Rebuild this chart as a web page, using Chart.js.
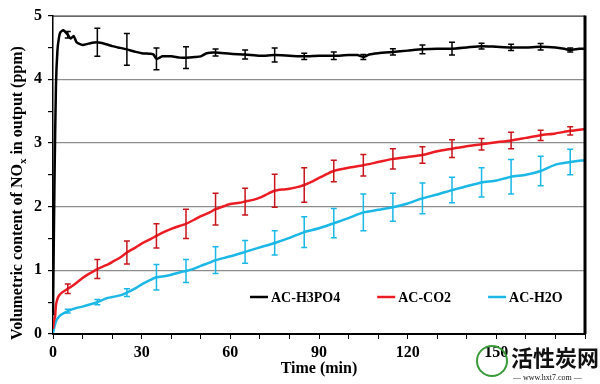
<!DOCTYPE html>
<html>
<head>
<meta charset="utf-8">
<script src="https://cdn.jsdelivr.net/npm/chart.js@4.4.1/dist/chart.umd.min.js"></script>
<style>
  html, body { margin: 0; padding: 0; background: #fff; }
  #wrap { width: 600px; height: 384px; }
</style>
</head>
<body>
<div id="wrap"><canvas id="chart" width="600" height="384"></canvas></div>
<script>
// time (min) and NOx (ppm)
const timeH3PO4 = [0, 0.5, 1, 1.5, 2, 2.5, 3.5, 5, 6, 7, 8, 10, 12, 15, 18, 20, 22, 25, 28, 30, 33, 34, 35, 37, 40, 43, 45, 48, 50, 52, 55, 60, 65, 70, 75, 80, 85, 90, 95, 100, 103, 105, 107, 110, 115, 120, 125, 130, 135, 140, 145, 150, 155, 160, 165, 170, 173, 175, 178, 180];
const valH3PO4 = [0.3, 2.4, 3.9, 4.45, 4.65, 4.74, 4.77, 4.70, 4.64, 4.68, 4.58, 4.54, 4.56, 4.58, 4.55, 4.52, 4.50, 4.47, 4.43, 4.41, 4.40, 4.39, 4.32, 4.36, 4.36, 4.34, 4.34, 4.35, 4.36, 4.41, 4.42, 4.40, 4.39, 4.37, 4.38, 4.37, 4.36, 4.37, 4.37, 4.38, 4.38, 4.35, 4.39, 4.41, 4.43, 4.45, 4.47, 4.48, 4.48, 4.50, 4.52, 4.51, 4.50, 4.50, 4.51, 4.50, 4.48, 4.46, 4.48, 4.48];

const timeCO2 = [0, 0.3, 0.7, 1, 1.5, 2, 3, 5, 7, 10, 12, 15, 18, 20, 23, 25, 28, 30, 33, 35, 38, 40, 43, 45, 48, 50, 53, 55, 58, 60, 63, 65, 68, 70, 73, 75, 78, 80, 83, 85, 88, 90, 93, 95, 100, 105, 110, 115, 120, 125, 130, 135, 140, 145, 150, 155, 160, 165, 170, 175, 180];
const valCO2 = [0.08, 0.2, 0.27, 0.45, 0.55, 0.6, 0.65, 0.71, 0.77, 0.88, 0.94, 1.02, 1.08, 1.13, 1.21, 1.28, 1.36, 1.42, 1.49, 1.54, 1.61, 1.65, 1.70, 1.73, 1.80, 1.85, 1.91, 1.96, 2.01, 2.04, 2.06, 2.08, 2.11, 2.14, 2.21, 2.25, 2.27, 2.28, 2.31, 2.34, 2.40, 2.45, 2.52, 2.56, 2.61, 2.65, 2.70, 2.75, 2.78, 2.81, 2.87, 2.91, 2.95, 2.98, 3.01, 3.04, 3.08, 3.12, 3.15, 3.19, 3.22];

const timeH2O = [0, 0.5, 1, 2, 3, 5, 8, 10, 13, 15, 18, 20, 23, 25, 28, 30, 33, 35, 38, 40, 43, 45, 48, 50, 53, 55, 60, 65, 70, 75, 80, 85, 90, 95, 100, 105, 110, 115, 120, 125, 130, 135, 140, 145, 150, 155, 160, 165, 170, 175, 180];
const valH2O = [0.02, 0.12, 0.2, 0.27, 0.31, 0.36, 0.41, 0.43, 0.47, 0.50, 0.56, 0.58, 0.61, 0.65, 0.72, 0.78, 0.85, 0.89, 0.91, 0.93, 0.97, 0.99, 1.03, 1.07, 1.12, 1.16, 1.22, 1.29, 1.36, 1.43, 1.51, 1.60, 1.66, 1.74, 1.82, 1.91, 1.95, 1.99, 2.05, 2.13, 2.19, 2.26, 2.32, 2.38, 2.41, 2.47, 2.50, 2.56, 2.66, 2.70, 2.73];

// error bars (± ppm) at these times
const errTimes = [5, 15, 25, 35, 45, 55, 65, 75, 85, 95, 105, 115, 125, 135, 145, 155, 165, 175];
const errH3PO4 = [0.05, 0.22, 0.25, 0.17, 0.17, 0.055, 0.07, 0.11, 0.05, 0.06, 0.04, 0.05, 0.07, 0.1, 0.045, 0.05, 0.05, 0.03];
const errCO2 = [0.075, 0.15, 0.18, 0.19, 0.23, 0.25, 0.21, 0.26, 0.27, 0.17, 0.17, 0.16, 0.13, 0.14, 0.09, 0.13, 0.08, 0.065];
const errH2O = [0.03, 0.04, 0.06, 0.2, 0.18, 0.21, 0.18, 0.19, 0.24, 0.23, 0.29, 0.22, 0.24, 0.2, 0.23, 0.27, 0.23, 0.2];

const xLabels = [0, 30, 60, 90, 120, 150];

const seriesNames = ["AC-H3PO4", "AC-CO2", "AC-H2O"];
const seriesColors = ["#000000", "#ec1c24", "#1bb7e6"];
const errColors = ["#000000", "#c8141b", "#1bb7e6"];

const serif = "'Liberation Serif', 'Times New Roman', serif";

function points(ts, vs) {
    return ts.map((t, i) => ({ x: t, y: vs[i] }));
}

const errorBars = {
    id: "errorBars",
    afterDatasetsDraw(chart) {
        const ctx = chart.ctx;
        const xs = chart.scales.x;
        const ys = chart.scales.y;
        chart.data.datasets.forEach((ds) => {
            ctx.save();
            ctx.strokeStyle = ds.errorColor;
            ctx.lineWidth = 1.5;
            errTimes.forEach((t, k) => {
                const pt = ds.data.find(p => p.x === t);
                if (!pt) return;
                const e = ds.errors[k];
                const px = xs.getPixelForValue(t);
                const top = ys.getPixelForValue(pt.y + e);
                const bot = ys.getPixelForValue(pt.y - e);
                ctx.beginPath();
                ctx.moveTo(px, top); ctx.lineTo(px, bot);
                ctx.moveTo(px - 3, top); ctx.lineTo(px + 3, top);
                ctx.moveTo(px - 3, bot); ctx.lineTo(px + 3, bot);
                ctx.stroke();
            });
            ctx.restore();
        });
    }
};

const frameAndText = {
    id: "frameAndText",
    afterDraw(chart) {
        const ctx = chart.ctx;
        const a = chart.chartArea;
        ctx.save();
        // top and right frame
        ctx.strokeStyle = "#000";
        ctx.lineWidth = 1;
        ctx.beginPath();
        ctx.moveTo(a.left, a.top + 0.5); ctx.lineTo(a.right, a.top + 0.5);
        ctx.stroke();
        ctx.lineWidth = 3;
        ctx.beginPath();
        ctx.moveTo(a.right, a.top); ctx.lineTo(a.right, a.bottom);
        ctx.stroke();

        // legend inside plot
        ctx.font = "bold 14px " + serif;
        ctx.textBaseline = "middle";
        ctx.textAlign = "left";
        let x = 250;
        const y = 297;
        chart.data.datasets.forEach((ds) => {
            ctx.strokeStyle = ds.borderColor;
            ctx.lineWidth = 2.5;
            ctx.beginPath();
            ctx.moveTo(x, y); ctx.lineTo(x + 18, y);
            ctx.stroke();
            ctx.fillStyle = "#000";
            ctx.fillText(ds.label, x + 21, y + 1);
            x += 21 + ctx.measureText(ds.label).width + 37;
        });

        // y axis title with subscript
        ctx.translate(18, 193);
        ctx.rotate(-Math.PI / 2);
        const big = "bold 16px " + serif;
        const small = "bold 11px " + serif;
        const p1 = "Volumetric content of NO", p2 = "x", p3 = " in output (ppm)";
        ctx.font = big; const w1 = ctx.measureText(p1).width; const w3 = ctx.measureText(p3).width;
        ctx.font = small; const w2 = ctx.measureText(p2).width;
        let sx = -(w1 + w2 + w3) / 2;
        ctx.fillStyle = "#000";
        ctx.textAlign = "left";
        ctx.textBaseline = "middle";
        ctx.font = big; ctx.fillText(p1, sx, 0); sx += w1;
        ctx.font = small; ctx.fillText(p2, sx, 5); sx += w2;
        ctx.font = big; ctx.fillText(p3, sx, 0);
        ctx.restore();

        // watermark
        ctx.save();
        ctx.strokeStyle = "#3a9a3a";
        ctx.lineWidth = 2;
        ctx.beginPath();
        ctx.arc(492, 361, 15, 0, Math.PI * 2);
        ctx.stroke();
        ctx.fillStyle = "#111";
        ctx.font = "bold 22px 'Noto Sans CJK SC'";
        ctx.textBaseline = "middle";
        ctx.textAlign = "left";
        ctx.fillText("活性炭网", 511, 358);
        ctx.font = "8px " + serif;
        ctx.fillText("— www.hxt7.com —", 513, 378);
        ctx.restore();
    }
};

const datasets = [
    { data: points(timeH3PO4, valH3PO4), errors: errH3PO4 },
    { data: points(timeCO2, valCO2), errors: errCO2 },
    { data: points(timeH2O, valH2O), errors: errH2O }
].map((d, i) => ({
    label: seriesNames[i],
    data: d.data,
    errors: d.errors,
    errorColor: errColors[i],
    borderColor: seriesColors[i],
    backgroundColor: seriesColors[i],
    borderWidth: 2.5,
    pointRadius: 0,
    tension: 0.2,
    fill: false
}));

new Chart(document.getElementById("chart"), {
    type: "line",
    data: { datasets: datasets },
    options: {
        responsive: false,
        animation: false,
        devicePixelRatio: 1,
        layout: { padding: { left: 0, right: 15, top: 12, bottom: 6 } },
        plugins: {
            legend: { display: false },
            tooltip: { enabled: false }
        },
        scales: {
            x: {
                type: "linear",
                min: 0,
                max: 180,
                afterFit: (s) => { s.height = 44; },
                ticks: {
                    stepSize: 10,
                    autoSkip: false,
                    maxRotation: 0,
                    padding: 4,
                    color: "#000",
                    font: { family: serif, size: 16, weight: "bold" },
                    callback: (v) => (xLabels.includes(v) ? v : "")
                },
                grid: { drawOnChartArea: false, tickColor: "#000", tickLength: 5 },
                border: { color: "#000", width: 2 },
                title: {
                    display: true,
                    text: "Time (min)",
                    color: "#000",
                    padding: { top: 0, bottom: 0 },
                    font: { family: serif, size: 16, weight: "bold" }
                }
            },
            y: {
                min: 0,
                max: 5,
                afterFit: (s) => { s.width = 53; },
                ticks: {
                    stepSize: 0.5,
                    autoSkip: false,
                    padding: 6,
                    color: "#000",
                    font: { family: serif, size: 16, weight: "bold" },
                    callback: (v) => (Number.isInteger(v) ? v : "")
                },
                grid: {
                    color: (c) => (c.tick && Number.isInteger(c.tick.value) && c.tick.value > 0 && c.tick.value < 5 ? "#8c8c8c" : "rgba(0,0,0,0)"),
                    lineWidth: 1.2,
                    tickColor: "#000",
                    tickLength: 5
                },
                border: { color: "#000", width: 1.5 }
            }
        }
    },
    plugins: [errorBars, frameAndText]
});
</script>
</body>
</html>
